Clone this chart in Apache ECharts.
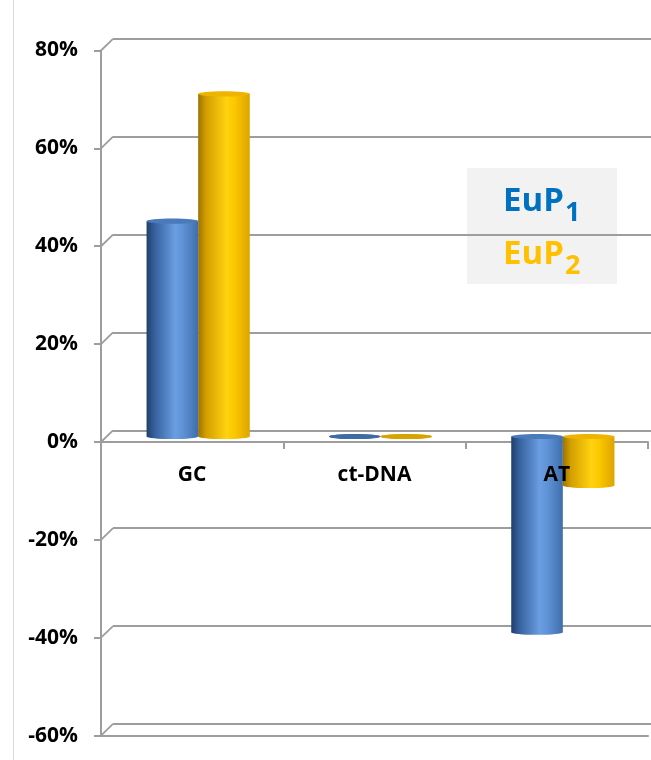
<!DOCTYPE html>
<html>
<head>
<meta charset="utf-8">
<script src="https://cdn.jsdelivr.net/npm/echarts@6/dist/echarts.min.js"></script>
<style>
  html, body { margin: 0; padding: 0; background: #fff; }
  #chart { width: 651px; height: 760px; }
</style>
</head>
<body>
<div id="chart"></div>
<script>
// Relative change per binding substrate
const categories = ['GC', 'ct-DNA', 'AT'];
const eup1 = [44, 0, -40];
const eup2 = [70, 0, -10];
const yTicks = [-60, -40, -20, 0, 20, 40, 60, 80];

// Pseudo-3D look: back wall is shifted by WALL_DX/WALL_DY, bars sit half way
const WALL_DX = 12, WALL_DY = -11.7;
const BAR_DX = 6, BAR_DY = -5.5;
const BAR_FRAC = 0.283;
const GRID_COLOR = '#9d9d9d';
const FONT = 'Open Sans';

const blueBody = [
  { offset: 0, color: '#213e6c' },
  { offset: 0.15, color: '#35609b' },
  { offset: 0.55, color: '#6a9de2' },
  { offset: 0.7, color: '#5f92d6' },
  { offset: 1, color: '#3f6eac' }
];
const yellowBody = [
  { offset: 0, color: '#9c7300' },
  { offset: 0.15, color: '#d39e00' },
  { offset: 0.55, color: '#ffd210' },
  { offset: 0.7, color: '#fcc800' },
  { offset: 1, color: '#dca400' }
];

function cylinder(side, stops, capColor, flatColor) {
  return function (params, api) {
    const i = api.value(0), v = api.value(1);
    const band = api.size([1, 0])[0];
    const w = band * BAR_FRAC;
    const p0 = api.coord([i, 0]);
    const p1 = api.coord([i, v]);
    const x = p0[0] + BAR_DX + (side === 0 ? -w : 0);
    const yUp = Math.min(p0[1], p1[1]) + BAR_DY;
    const yLow = Math.max(p0[1], p1[1]) + BAR_DY;
    const rx = w / 2, ry = 2.6;
    const grad = new echarts.graphic.LinearGradient(0, 0, 1, 0, stops);
    const cap = (yLow - yUp) < 1 ? flatColor : capColor;
    return {
      type: 'group',
      children: [
        { type: 'ellipse', shape: { cx: x + rx, cy: yLow, rx: rx, ry: ry }, style: { fill: grad } },
        { type: 'rect', shape: { x: x, y: yUp, width: w, height: yLow - yUp }, style: { fill: grad } },
        { type: 'ellipse', shape: { cx: x + rx, cy: yUp, rx: rx, ry: ry }, style: { fill: cap } }
      ]
    };
  };
}

// Diagonal gridline segments on the left side wall
function sideWall(params, api) {
  const v = api.value(0);
  const p = api.coord([0, v]);
  const x0 = params.coordSys.x;
  return {
    type: 'line',
    shape: { x1: x0, y1: p[1], x2: x0 + WALL_DX, y2: p[1] + WALL_DY },
    style: { stroke: GRID_COLOR, lineWidth: 1.8 }
  };
}

// Category names just under the zero line
function categoryLabel(params, api) {
  const i = api.value(0);
  const p = api.coord([i, 0]);
  return {
    type: 'text',
    style: {
      text: categories[i], x: p[0], y: p[1] + 33,
      fill: '#000', font: 'bold 21px "Open Sans"',
      textAlign: 'center', textVerticalAlign: 'middle', verticalAlign: 'middle'
    }
  };
}

const chart = echarts.init(document.getElementById('chart'), null, { renderer: 'canvas' });

const gridFront = { left: 101, right: 3, top: 50.5, bottom: 24.4, containLabel: false, outerBoundsMode: 'none' };
const gridBack = {
  left: gridFront.left + WALL_DX, right: 0,
  top: gridFront.top + WALL_DY, bottom: gridFront.bottom - WALL_DY,
  containLabel: false, outerBoundsMode: 'none'
};

chart.setOption({
  animation: false,
  backgroundColor: '#ffffff',
  grid: [gridFront, gridBack],
  xAxis: [
    {
      type: 'category', gridIndex: 0, data: categories,
      axisLine: { onZero: true, lineStyle: { color: GRID_COLOR, width: 2 } },
      axisTick: { show: true, length: 7, lineStyle: { color: GRID_COLOR, width: 2 } },
      axisLabel: { show: false }
    },
    {
      type: 'category', gridIndex: 0, data: categories, position: 'bottom',
      axisLine: { onZero: false, lineStyle: { color: GRID_COLOR, width: 2 } },
      axisTick: { show: false }, axisLabel: { show: false }
    },
    {
      type: 'category', gridIndex: 1, data: categories, show: false
    }
  ],
  yAxis: [
    {
      type: 'value', gridIndex: 0, min: -60, max: 80, interval: 20,
      axisLine: { show: true, lineStyle: { color: GRID_COLOR, width: 2 } },
      axisTick: { show: true, length: 7, lineStyle: { color: GRID_COLOR, width: 2 } },
      splitLine: { show: false },
      axisLabel: {
        margin: 23, color: '#000', fontFamily: FONT, fontWeight: 'bold', fontSize: 21,
        formatter: '{value}%'
      }
    },
    {
      type: 'value', gridIndex: 1, min: -60, max: 80, interval: 20,
      axisLine: { show: false }, axisTick: { show: false }, axisLabel: { show: false },
      splitLine: { show: true, lineStyle: { color: GRID_COLOR, width: 1.8 } }
    }
  ],
  series: [
    {
      type: 'custom', name: 'wall', xAxisIndex: 0, yAxisIndex: 0, z: 1,
      data: yTicks.map(v => [v]), renderItem: sideWall, silent: true
    },
    {
      type: 'custom', name: 'EuP1', xAxisIndex: 0, yAxisIndex: 0, z: 3,
      data: categories.map((c, i) => [i, eup1[i]]),
      renderItem: cylinder(0, blueBody, '#4a7abb', '#3e6aa5')
    },
    {
      type: 'custom', name: 'EuP2', xAxisIndex: 0, yAxisIndex: 0, z: 2,
      data: categories.map((c, i) => [i, eup2[i]]),
      renderItem: cylinder(1, yellowBody, '#efb400', '#d8a200')
    },
    {
      type: 'custom', name: 'labels', xAxisIndex: 0, yAxisIndex: 0, z: 10,
      data: categories.map((c, i) => [i]), renderItem: categoryLabel, silent: true
    }
  ],
  graphic: [
    {
      type: 'line', z: 0,
      shape: { x1: 13.5, y1: 0, x2: 13.5, y2: 760 },
      style: { stroke: '#d9d9d9', lineWidth: 1 }
    },
    {
      type: 'group', z: 20,
      children: [
        { type: 'rect', shape: { x: 467, y: 168, width: 150, height: 116 }, style: { fill: '#f2f2f2' } },
        { type: 'text', style: { text: 'EuP', x: 503, y: 202, fill: '#0070c0', font: 'bold 33px "Open Sans"', textAlign: 'left', textVerticalAlign: 'middle', verticalAlign: 'middle' } },
        { type: 'text', style: { text: '1', x: 565, y: 213, fill: '#0070c0', font: 'bold 27px "Open Sans"', textAlign: 'left', textVerticalAlign: 'middle', verticalAlign: 'middle' } },
        { type: 'text', style: { text: 'EuP', x: 503, y: 254.5, fill: '#ffc000', font: 'bold 33px "Open Sans"', textAlign: 'left', textVerticalAlign: 'middle', verticalAlign: 'middle' } },
        { type: 'text', style: { text: '2', x: 565, y: 266.5, fill: '#ffc000', font: 'bold 27px "Open Sans"', textAlign: 'left', textVerticalAlign: 'middle', verticalAlign: 'middle' } }
      ]
    }
  ]
});
</script>
</body>
</html>
